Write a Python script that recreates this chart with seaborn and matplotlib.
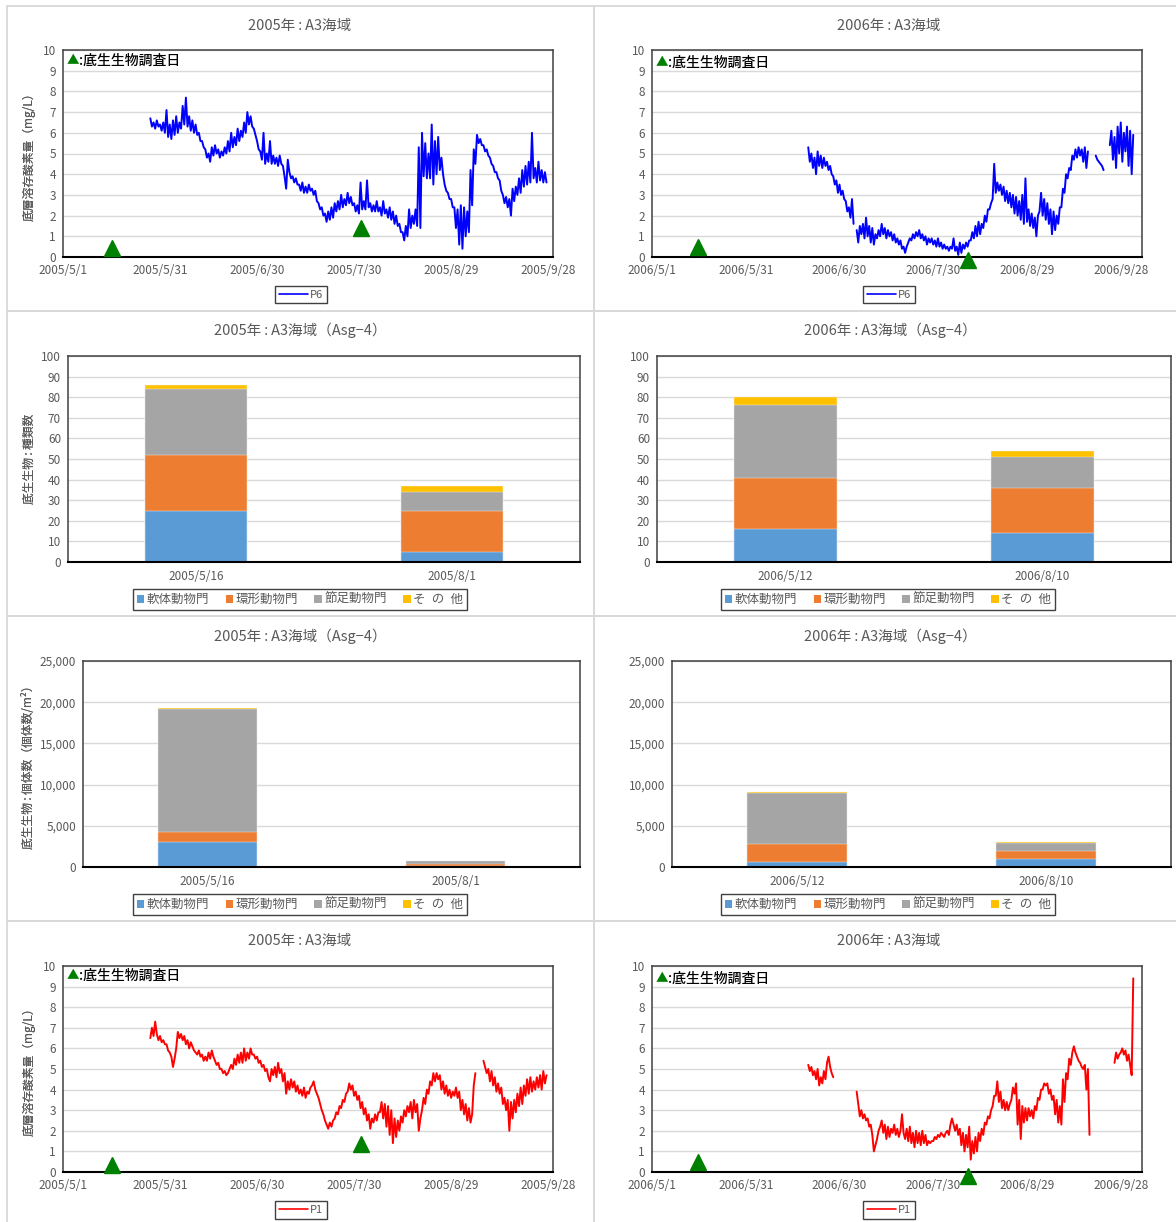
import numpy as np
import pandas as pd
import matplotlib.pyplot as plt
from matplotlib.lines import Line2D
from matplotlib.patches import Patch, Rectangle
import seaborn as sns

sns.set_style('white')
plt.rcParams['font.family'] = ['Noto Sans CJK JP', 'DejaVu Sans']

# ---- dissolved oxygen, readings every 12 hours (mg/L) ----
p6_2005_start = '2005-05-28'
p6_2005 = [
    6.7, 6.3, 6.5, 6.2, 6.6, 6.3, 6.4, 6.1, 6.5, 6.0,
    7.1, 5.8, 6.4, 5.7, 6.6, 5.9, 6.8, 6.0, 6.5, 6.2,
    7.3, 6.4, 7.7, 6.3, 6.8, 6.1, 6.6, 6.0, 6.4, 5.9,
    6.0, 5.6, 5.6, 5.3, 5.2, 4.8, 5.0, 4.6, 5.3, 4.9,
    5.4, 5.0, 5.2, 4.8, 5.1, 4.9, 5.3, 5.0, 5.6, 5.1,
    6.0, 5.3, 5.8, 5.4, 6.2, 5.6, 6.1, 5.8, 6.5, 6.0,
    7.0, 6.4, 6.8, 6.3, 6.2, 5.9, 5.6, 5.2, 5.1, 4.7,
    6.0, 4.5, 5.0, 4.6, 5.6, 4.5, 4.9, 4.5, 4.8, 4.4,
    4.9, 4.5, 4.4, 3.9, 3.3, 4.7, 4.1, 3.8, 3.9, 3.6,
    3.8, 3.5, 3.5, 3.2, 3.6, 3.1, 3.4, 3.1, 3.5, 3.2,
    3.3, 3.0, 3.2, 2.7, 2.6, 2.3, 2.4, 2.0, 2.1, 1.7,
    2.2, 1.8, 2.4, 1.9, 2.6, 2.2, 2.7, 2.3, 3.0, 2.4,
    2.8, 2.5, 3.1, 2.6, 2.9, 2.5, 2.6, 2.2, 2.5, 2.1,
    3.6, 2.3, 2.7, 2.3, 3.7, 2.4, 2.6, 2.2, 2.5, 2.2,
    2.7, 2.2, 2.4, 2.0, 2.7, 2.1, 2.3, 1.9, 2.4, 1.8,
    2.2, 1.6, 2.0, 1.5, 1.6, 1.2, 1.2, 0.8, 1.5, 1.0,
    2.3, 1.4, 2.0, 1.6, 2.3, 1.5, 5.3, 1.4, 6.0, 3.9,
    5.5, 3.8, 5.0, 3.8, 6.4, 3.5, 5.6, 4.0, 5.8, 4.2,
    4.8, 4.0, 3.5, 3.2, 3.1, 2.8, 2.8, 2.4, 2.4, 1.4,
    2.3, 0.6, 2.5, 0.4, 2.4, 1.0, 2.2, 1.2, 4.2, 2.5,
    5.2, 4.5, 5.9, 5.5, 5.7, 5.4, 5.4, 5.1, 5.2, 4.9,
    4.8, 4.5, 4.4, 4.1, 4.1, 3.8, 3.7, 3.2, 3.0, 2.6,
    2.9, 2.4, 2.8, 2.0, 3.3, 2.7, 3.4, 3.0, 3.8, 3.1,
    4.2, 3.4, 4.4, 3.5, 4.6, 3.6, 6.0, 3.8, 4.3, 3.6,
    4.6, 3.7, 4.2, 3.6, 4.1, 3.6,
]

p6_2006_start = '2006-06-20'
p6_2006 = [
    5.3, 4.6, 5.0, 4.3, 4.8, 4.0, 5.1, 4.4, 4.9, 4.3,
    4.8, 4.4, 4.6, 4.2, 4.4, 4.0, 3.9, 3.5, 3.7, 3.1,
    3.5, 3.0, 3.2, 2.8, 2.7, 2.2, 2.4, 1.9, 2.8, 1.6,
    np.nan, 1.3, 0.7, 1.5, 1.1, 1.6, 0.9, 1.9, 1.0, 1.5,
    0.7, 1.4, 0.6, 1.1, 0.9, 1.3, 1.0, 1.6, 1.1, 1.4,
    0.9, 1.3, 1.0, 1.2, 0.8, 1.1, 0.7, 0.9, 0.6, 0.8,
    0.4, 0.5, 0.2, 0.5, 0.7, 0.9, 0.8, 1.1, 0.9, 1.2,
    1.0, 1.3, 0.9, 1.1, 0.8, 1.0, 0.6, 0.9, 0.7, 0.9,
    0.6, 0.8, 0.5, 0.9, 0.5, 0.7, 0.4, 0.6, 0.4, 0.5,
    0.3, 0.5, 0.4, 0.9, 0.3, 0.5, 0.1, 0.7, 0.2, 0.6,
    0.4, 0.7, 0.5, 0.8, 0.8, 1.2, 0.9, 1.5, 1.0, 1.7,
    1.1, 1.6, 1.4, 2.0, 1.7, 2.3, 2.3, 2.6, 2.8, 4.5,
    3.1, 3.6, 3.2, 3.5, 3.0, 3.4, 2.7, 3.2, 2.6, 3.1,
    2.4, 3.0, 2.1, 2.9, 2.0, 2.7, 1.8, 3.0, 1.6, 3.8,
    1.7, 2.3, 1.5, 2.1, 1.4, 1.9, 1.0, 2.0, 2.2, 3.1,
    2.0, 2.8, 1.8, 2.6, 1.6, 2.3, 1.1, 2.2, 1.3, 2.0,
    1.6, 2.4, 2.4, 3.3, 3.1, 4.0, 3.8, 4.3, 4.2, 4.9,
    4.7, 5.2, 4.8, 5.3, 4.9, 5.2, 4.6, 5.3, 4.3, 5.1,
    np.nan, np.nan, np.nan, np.nan, 4.9, 4.7, 4.6, 4.5, 4.4, 4.2,
    np.nan, np.nan, np.nan, 5.4, 6.1, 4.7, 5.8, 4.3, 6.3, 5.0,
    6.5, 4.6, 6.0, 5.1, 6.3, 4.4, 6.1, 4.0, 5.9,
]

p1_2005_start = '2005-05-28'
p1_2005 = [
    6.5, 7.0, 6.6, 7.3, 6.7, 6.4, 6.6, 6.3, 6.4, 6.2,
    6.2, 5.9, 5.8, 5.6, 5.1, 5.5, 6.0, 6.8, 6.5, 6.7,
    6.4, 6.6, 6.2, 6.4, 6.0, 6.3, 6.1, 5.9, 5.8, 5.7,
    5.9, 5.6, 5.7, 5.4, 5.6, 5.4, 5.8, 5.5, 5.9, 5.6,
    5.4, 5.2, 5.3, 5.0, 5.0, 4.8, 4.9, 4.7, 4.8, 5.0,
    5.2, 5.0, 5.5, 5.2, 5.7, 5.3, 5.8, 5.3, 6.0, 5.4,
    5.8, 5.5, 6.0, 5.7, 5.7, 5.5, 5.6, 5.3, 5.4, 5.1,
    5.2, 4.9, 5.0, 4.6, 4.4, 5.0, 4.7, 5.1, 4.6, 5.3,
    4.8, 5.0, 4.4, 4.8, 3.8, 4.4, 4.0, 4.5, 4.1, 4.4,
    3.9, 4.2, 3.8, 4.0, 3.7, 4.1, 3.6, 3.9, 3.8, 4.1,
    4.2, 4.4, 4.0, 3.8, 3.6, 3.3, 3.0, 2.8, 2.5, 2.3,
    2.1, 2.4, 2.2, 2.5, 2.6, 2.9, 2.8, 3.2, 3.1, 3.5,
    3.4, 3.8, 3.9, 4.3, 4.0, 4.2, 3.7, 3.9, 3.5, 3.7,
    3.1, 3.4, 2.8, 3.1, 2.5, 2.8, 2.1, 2.6, 2.4, 2.8,
    2.5, 2.9, 2.9, 3.4, 2.6, 3.3, 2.2, 3.2, 1.8, 3.0,
    1.4, 2.6, 1.7, 2.5, 2.0, 2.7, 2.4, 3.0, 2.7, 3.2,
    2.9, 3.4, 2.6, 3.5, 2.9, 3.3, 2.0, 2.6, 3.0, 3.6,
    3.3, 4.0, 3.8, 4.4, 4.2, 4.8, 4.4, 4.8, 4.5, 4.7,
    4.0, 4.4, 3.8, 4.2, 3.7, 4.0, 3.6, 3.9, 3.7, 4.1,
    3.6, 3.9, 3.0, 3.5, 2.8, 3.3, 2.5, 3.1, 2.4, 2.8,
    4.2, 4.8, np.nan, np.nan, np.nan, np.nan, 5.4, 5.1, 4.8, 5.0,
    4.4, 4.9, 4.2, 4.6, 3.9, 4.3, 3.8, 4.1, 3.3, 3.6,
    3.0, 3.5, 2.0, 3.4, 2.6, 3.5, 2.9, 3.8, 3.2, 4.1,
    3.3, 4.2, 3.7, 4.5, 3.8, 4.6, 3.9, 4.4, 4.0, 4.6,
    4.1, 4.7, 4.0, 4.9, 4.3, 4.7,
]

p1_2006_start = '2006-06-20'
p1_2006 = [
    5.2, 4.9, 5.1, 4.7, 4.9, 4.5, 5.0, 4.2, 4.6, 4.3,
    4.9, 4.5, 5.3, 5.6, 5.1, 4.8, 4.6, np.nan, np.nan, np.nan,
    np.nan, np.nan, np.nan, np.nan, np.nan, np.nan, np.nan, np.nan, np.nan, np.nan,
    np.nan, 3.9, 3.3, 2.7, 3.0, 2.6, 2.8, 2.5, 2.6, 2.2,
    2.3, 1.8, 1.0, 1.3, 1.6, 2.0, 2.2, 2.5, 1.9, 2.3,
    1.6, 2.2, 1.7, 2.1, 1.9, 2.3, 1.8, 2.1, 1.7, 2.0,
    2.8, 1.9, 1.6, 2.1, 1.5, 2.2, 1.4, 1.9, 1.2, 2.0,
    1.4, 1.9, 1.3, 2.0, 1.4, 1.8, 1.3, 1.5, 1.4, 1.5,
    1.5, 1.7, 1.6, 1.8, 1.7, 1.9, 1.8, 1.7, 1.9, 2.0,
    1.8, 2.3, 2.6, 2.3, 2.0, 2.3, 1.8, 2.1, 1.3, 1.9,
    1.0, 1.8, 1.2, 2.2, 0.6, 1.5, 0.9, 1.7, 1.0, 1.9,
    1.5, 2.1, 1.8, 2.4, 2.3, 2.7, 2.6, 3.0, 3.2, 3.7,
    3.7, 4.4, 3.4, 3.9, 3.1, 3.5, 3.0, 3.4, 3.0, 3.3,
    3.5, 4.1, 3.8, 4.3, 2.3, 3.5, 1.6, 3.2, 2.4, 3.1,
    2.5, 3.1, 2.7, 3.0, 2.6, 3.2, 3.0, 3.6, 3.5, 4.0,
    4.0, 4.3, 4.2, 4.3, 3.8, 4.0, 3.5, 3.7, 2.8, 3.5,
    2.4, 3.2, 2.3, 4.5, 3.4, 4.8, 4.5, 5.5, 5.2, 5.8,
    6.1, 5.8, 5.6, 5.4, 5.3, 5.1, 5.0, 5.2, 4.0, 5.0,
    1.8, np.nan, np.nan, np.nan, np.nan, np.nan, np.nan, np.nan, np.nan, np.nan,
    np.nan, np.nan, np.nan, np.nan, np.nan, np.nan, 5.3, 5.8, 5.5, 5.7,
    5.8, 6.0, 5.7, 5.9, 5.4, 5.7, 5.2, 4.7, 9.4,
]

# survey dates as plotted (day offset from 5/1) and marker heights
survey_days_2005 = [15.0, 92.2]
survey_days_2006 = [14.6, 101.2]
survey_y_top_2005 = [0.42, 1.4]
survey_y_top_2006 = [0.48, -0.13]
survey_y_bot_2005 = [0.36, 1.38]
survey_y_bot_2006 = [0.47, -0.18]

date_ticks_2005 = ['2005/5/1', '2005/5/31', '2005/6/30', '2005/7/30', '2005/8/29', '2005/9/28']
date_ticks_2006 = ['2006/5/1', '2006/5/31', '2006/6/30', '2006/7/30', '2006/8/29', '2006/9/28']

# ---- benthos ----
groups = ['軟体動物門', '環形動物門', '節足動物門', 'そ\u2002の\u2002他']
group_colors = ['#5B9BD5', '#ED7D31', '#A5A5A5', '#FFC000']

dates_2005 = ['2005/5/16', '2005/8/1']
dates_2006 = ['2006/5/12', '2006/8/10']

species_2005 = [[25, 5], [27, 20], [32, 9], [2, 3]]
species_2006 = [[16, 14], [25, 22], [35, 15], [4, 3]]
count_2005 = [[3000, 100], [1200, 260], [15030, 310], [120, 60]]
count_2006 = [[600, 970], [2180, 965], [6250, 970], [120, 80]]

C = '\u2009:\u2009'
W, H = 1176, 1222
GRAY_TXT = '#595959'
fig = plt.figure(figsize=(W / 100, H / 100), dpi=100)
fig.patch.set_facecolor('white')

# panel frames
for x0, x1 in [(7, 594), (594, 1190)]:
    for y0, y1 in [(6, 311), (311, 616), (616, 921), (921, 1230)]:
        fig.patches.append(Rectangle((x0 / W, 1 - y1 / H), (x1 - x0) / W, (y1 - y0) / H,
                                     transform=fig.transFigure, fill=False,
                                     edgecolor='#D9D9D9', linewidth=1.3))


def box(l, t, r, b):
    return [l / W, 1 - b / H, (r - l) / W, (b - t) / H]


def style_axes(ax):
    for s in ['top', 'right', 'left']:
        ax.spines[s].set_color('#404040')
        ax.spines[s].set_linewidth(1.1)
    ax.spines['bottom'].set_color('black')
    ax.spines['bottom'].set_linewidth(1.5)
    ax.yaxis.grid(True, color='#D9D9D9', linewidth=1)
    ax.xaxis.grid(False)
    ax.set_axisbelow(True)
    ax.tick_params(axis='y', length=0, pad=5, labelsize=8.5, labelcolor=GRAY_TXT)
    ax.set_xlabel('')
    ax.set_ylabel('')


def line_panel(rect, title, title_x, title_y, start, values, color, name,
               survey_days, survey_y, ticks, xmax, legend_x, legend_y, note_dy):
    ax = fig.add_axes(box(*rect))
    idx = pd.date_range(start, periods=len(values), freq='12h')
    s = pd.Series(values, index=idx)
    for _, part in s.groupby(s.isna().cumsum()):
        part = part.dropna()
        if len(part) > 1:
            sns.lineplot(x=part.index, y=part.values, ax=ax, color=color,
                         linewidth=1.4, estimator=None, sort=False)
    t0 = pd.Timestamp(ticks[0].replace('/', '-'))
    sx = [t0 + pd.Timedelta(days=d) for d in survey_days]
    ax.plot(sx, survey_y, linestyle='none', marker='^', markersize=11,
            color='#008000', clip_on=False, zorder=5)
    tick_pos = pd.to_datetime(ticks, format='%Y/%m/%d')
    ax.set_xticks(tick_pos)
    ax.set_xticklabels(ticks)
    ax.set_xlim(t0, t0 + pd.Timedelta(days=xmax))
    ax.set_ylim(0, 10)
    ax.set_yticks(range(0, 11))
    style_axes(ax)
    ax.tick_params(axis='x', direction='in', length=4, width=1, color='#404040',
                   pad=5, labelsize=8.5, labelcolor=GRAY_TXT)
    fig.text(title_x / W, 1 - title_y / H, title, ha='center', va='center',
             fontsize=10.5, color=GRAY_TXT)
    fig.text(29 / W, 1 - (rect[1] + rect[3]) / 2 / H, '底層溶存酸素量（mg/L）',
             rotation=90, ha='center', va='center', fontsize=8.5, color=GRAY_TXT)
    ty = 1 - note_dy / (rect[3] - rect[1])
    ax.text(10 / (rect[2] - rect[0]), ty, '▲', transform=ax.transAxes, color='#008000',
            ha='center', va='center', fontsize=9)
    ax.text(16 / (rect[2] - rect[0]), ty, ':底生生物調査日', transform=ax.transAxes,
            color='black', ha='left', va='center', fontsize=10, fontweight='medium')
    h = [Line2D([0], [0], color=color, linewidth=1.2)]
    fig.legend(h, [name], loc='center', bbox_to_anchor=(legend_x / W, 1 - legend_y / H),
               bbox_transform=fig.transFigure, fontsize=8, labelcolor=GRAY_TXT,
               frameon=True, fancybox=False, edgecolor='#404040', framealpha=1,
               handlelength=2.6, handletextpad=0.2, borderpad=0.35)
    return ax


def bar_panel(rect, title, title_x, title_y, cats, data, ymax, ystep, ylabel,
              legend_x, legend_y, comma):
    ax = fig.add_axes(box(*rect))
    cum = np.cumsum(data, axis=0)
    for i in range(len(groups) - 1, -1, -1):
        sns.barplot(x=cats, y=cum[i], ax=ax, color=group_colors[i], saturation=1,
                    width=0.4, edgecolor='#F2F2F2', linewidth=0.3, errorbar=None)
    ax.set_xlim(-0.5, 1.5)
    ax.set_ylim(0, ymax)
    ax.set_yticks(np.arange(0, ymax + 1, ystep))
    if comma:
        ax.set_yticklabels([f'{int(v):,}' for v in np.arange(0, ymax + 1, ystep)])
    style_axes(ax)
    ax.set_xticks([0.5], minor=True)
    ax.tick_params(axis='x', which='major', length=0, pad=6, labelsize=8.5,
                   labelcolor=GRAY_TXT)
    ax.tick_params(axis='x', which='minor', direction='in', length=4, width=1,
                   color='#404040')
    fig.text(title_x / W, 1 - title_y / H, title, ha='center', va='center',
             fontsize=10.5, color=GRAY_TXT)
    fig.text(29 / W, 1 - (rect[1] + rect[3]) / 2 / H, ylabel,
             rotation=90, ha='center', va='center', fontsize=8.5, color=GRAY_TXT)
    h = [Patch(facecolor=c, edgecolor='none') for c in group_colors]
    fig.legend(h, groups, loc='center', ncol=4, bbox_to_anchor=(legend_x / W, 1 - legend_y / H),
               bbox_transform=fig.transFigure, fontsize=9, labelcolor=GRAY_TXT,
               frameon=True, fancybox=False, edgecolor='#404040', framealpha=1,
               handlelength=0.6, handleheight=0.6, handletextpad=0.2,
               columnspacing=1.3, borderpad=0.3)
    return ax


line_panel((63, 50, 553, 257), f'2005年{C}A3海域', 300, 26, p6_2005_start, p6_2005, '#0000FF', 'P6',
           survey_days_2005, survey_y_top_2005, date_ticks_2005, 151.5, 301, 294.5, 11)
line_panel((652, 50, 1142, 257), f'2006年{C}A3海域', 889, 26, p6_2006_start, p6_2006, '#0000FF', 'P6',
           survey_days_2006, survey_y_top_2006, date_ticks_2006, 156.8, 889, 294.5, 13)

bar_panel((68, 356, 580, 562), f'2005年{C}A3海域（Asg−4）', 300, 330, dates_2005, species_2005,
          100, 10, f'底生生物{C}種類数', 300, 599.5, False)
bar_panel((657, 356, 1171, 562), f'2006年{C}A3海域（Asg−4）', 890, 330, dates_2006, species_2006,
          100, 10, f'底生生物{C}種類数', 888, 599.5, False)

bar_panel((83, 661, 580, 867), f'2005年{C}A3海域（Asg−4）', 300, 636, dates_2005, count_2005,
          25000, 5000, f'底生生物{C}個体数（個体数/m²）', 300, 904.5, True)
bar_panel((672, 661, 1171, 867), f'2006年{C}A3海域（Asg−4）', 890, 636, dates_2006, count_2006,
          25000, 5000, f'底生生物{C}個体数（個体数/m²）', 888, 904.5, True)

line_panel((63, 966, 553, 1172), f'2005年{C}A3海域', 300, 941, p1_2005_start, p1_2005, '#FF0000', 'P1',
           survey_days_2005, survey_y_bot_2005, date_ticks_2005, 151.5, 301, 1210, 10)
line_panel((652, 966, 1142, 1172), f'2006年{C}A3海域', 889, 941, p1_2006_start, p1_2006, '#FF0000', 'P1',
           survey_days_2006, survey_y_bot_2006, date_ticks_2006, 156.8, 889, 1210, 13)

fig.savefig('out.png', dpi=100, facecolor='white')
